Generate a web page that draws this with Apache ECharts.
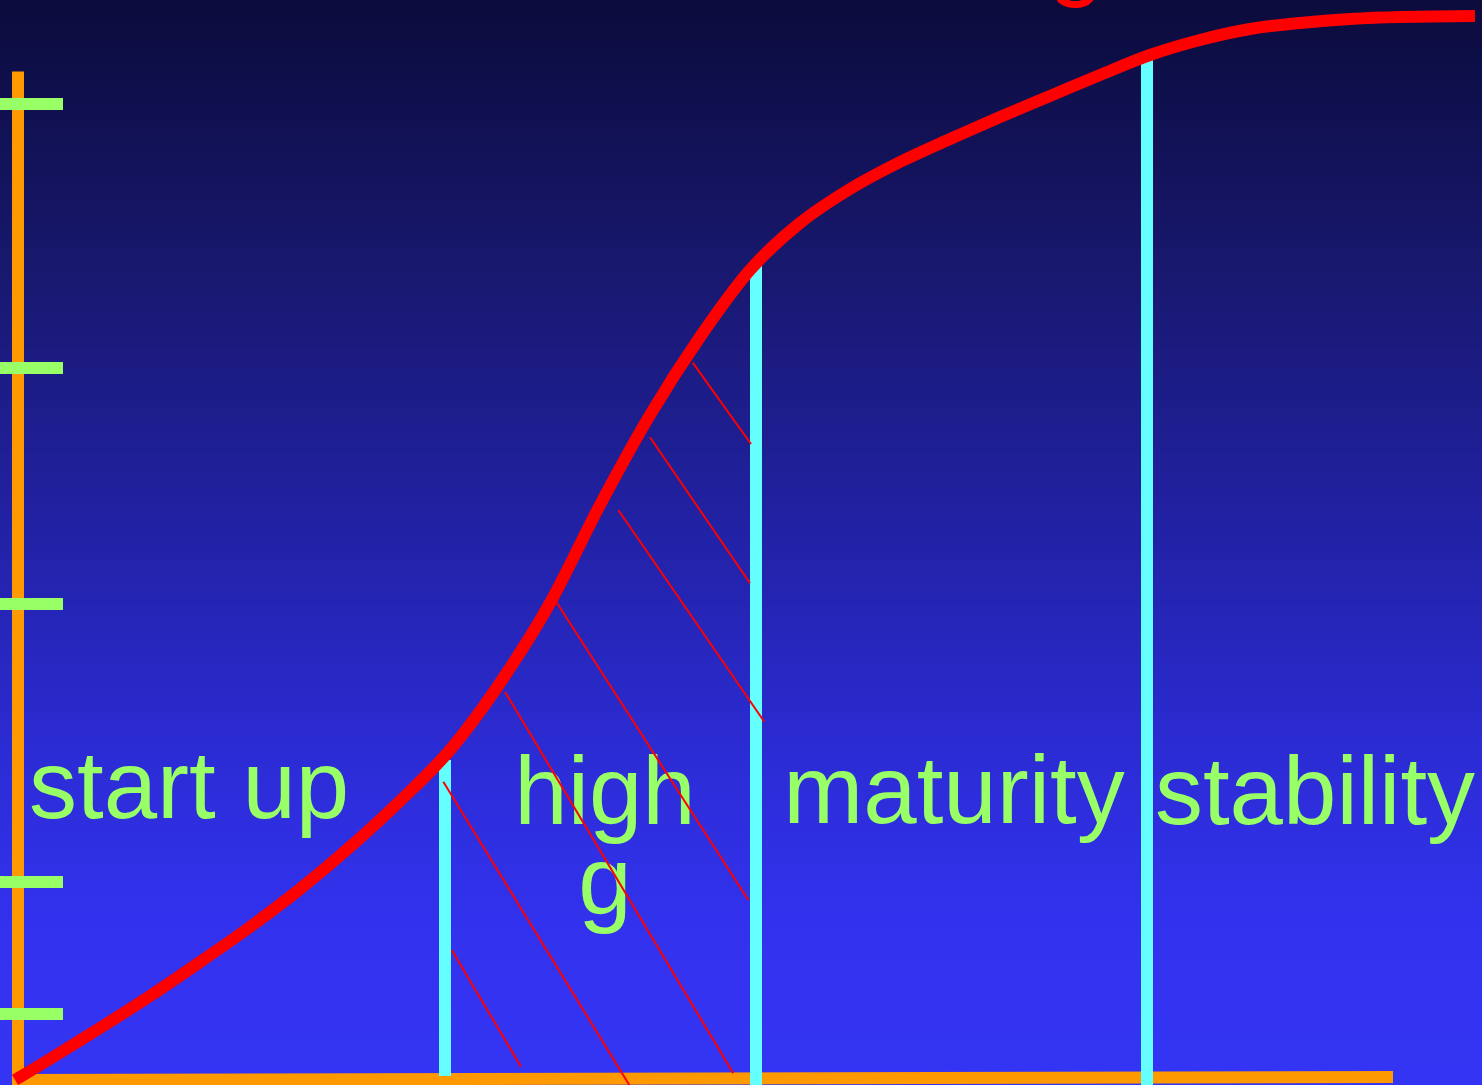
<!DOCTYPE html>
<html>
<head>
<meta charset="utf-8">
<title>Product life cycle</title>
<script src="https://cdn.jsdelivr.net/npm/echarts@6/dist/echarts.min.js"></script>
<style>
  html, body { margin: 0; padding: 0; background: #0b0b3c; }
  #chart { width: 1482px; height: 1085px; }
</style>
</head>
<body>
<div id="chart"></div>
<script>
// S-curve of the life cycle, sampled at even time steps
const curveTimes = [
  15, 50, 100, 150, 200, 250, 300, 350, 400, 450, 500, 550, 600, 650, 700, 750,
  800, 850, 900, 950, 1000, 1050, 1100, 1150, 1200, 1250, 1300, 1350, 1400, 1475
];
const curveLevels = [
  5, 26, 57, 89, 123, 158, 196, 238, 284, 335, 402, 482, 580, 670, 748, 815,
  862, 896, 923, 946, 968, 989, 1010, 1030, 1045, 1056, 1062, 1066, 1068, 1069
];

// Phase dividers: time position, top and bottom level
const dividerTimes = [445, 756, 1147];
const dividerTops = [325, 823, 1027];
const dividerBottoms = [9, 0, 0];

// Phase names
const phaseNames = ['start up', 'high\ng', 'maturity', 'stability'];

// Level marks along the vertical axis
const levelTicks = [981.3, 717, 481, 203.3, 71.7];

// Axis lines: [start, end]
const levelAxis = [[17.5, 0], [17.5, 1013.5]];
const timeAxis = [[12, 5], [1393, 8]];

// Hatching of the high growth phase
const hatchSegments = [
  [[692.7, 722.3], [751, 641]],
  [[650, 647.7], [750, 501.7]],
  [[618.3, 575], [764.3, 363.3]],
  [[555.7, 484], [748.3, 185]],
  [[505, 393.3], [733.3, 11.7]],
  [[443.3, 303.3], [629.3, 0]],
  [[451.7, 135], [521, 18.3]]
];

const chart = echarts.init(document.getElementById('chart'), null, { renderer: 'canvas' });

const ORANGE = '#ff9900';
const GREEN = '#99ff66';
const CYAN = '#66ffff';
const RED = '#ff0000';
const FONT = '"Liberation Sans", Arial, Helvetica, sans-serif';

function segLines(name, segs, color, width, z) {
  return {
    type: 'lines',
    name: name,
    coordinateSystem: 'cartesian2d',
    polyline: false,
    silent: true,
    z: z,
    lineStyle: { color: color, width: width, opacity: 1, curveness: 0, cap: 'butt' },
    data: segs.map(s => ({ coords: s }))
  };
}

// Catmull-Rom spline through pixel points, as SVG path data
function splinePath(pts) {
  const f = n => n.toFixed(2);
  let d = 'M' + f(pts[0][0]) + ' ' + f(pts[0][1]);
  for (let i = 0; i < pts.length - 1; i++) {
    const p0 = pts[Math.max(i - 1, 0)];
    const p1 = pts[i];
    const p2 = pts[i + 1];
    const p3 = pts[Math.min(i + 2, pts.length - 1)];
    const c1x = p1[0] + (p2[0] - p0[0]) / 6;
    const c1y = p1[1] + (p2[1] - p0[1]) / 6;
    const c2x = p2[0] - (p3[0] - p1[0]) / 6;
    const c2y = p2[1] - (p3[1] - p1[1]) / 6;
    d += ' C' + f(c1x) + ' ' + f(c1y) + ' ' + f(c2x) + ' ' + f(c2y) + ' ' + f(p2[0]) + ' ' + f(p2[1]);
  }
  return d;
}

const tickSegs = levelTicks.map(v => [[0, v], [63, v]]);
const dividerSegs = dividerTimes.map((t, i) => [[t, dividerBottoms[i]], [t, dividerTops[i]]]);
const curveData = curveTimes.map((t, i) => [t, curveLevels[i]]);

const option = {
  animation: false,
  backgroundColor: {
    type: 'linear', x: 0, y: 0, x2: 0, y2: 1,
    colorStops: [
      { offset: 0, color: '#0b0b3c' },
      { offset: 0.25, color: '#18186f' },
      { offset: 0.5, color: '#2222a8' },
      { offset: 0.7, color: '#2c2cd6' },
      { offset: 0.85, color: '#3232ee' },
      { offset: 1, color: '#3434f4' }
    ]
  },
  grid: { left: 0, right: 0, top: 0, bottom: 0 },
  xAxis: { type: 'value', min: 0, max: 1482, show: false },
  yAxis: { type: 'value', min: 0, max: 1085, show: false },
  graphic: [
    {
      type: 'text', x: 29, y: 792, z: 1,
      style: { text: phaseNames[0], font: '96px ' + FONT, fill: GREEN, textAlign: 'left', textVerticalAlign: 'middle' }
    },
    {
      type: 'text', x: 605, y: 843, z: 1,
      style: { text: phaseNames[1], font: '96px ' + FONT, lineHeight: 90, fill: GREEN, textAlign: 'center', textVerticalAlign: 'middle' }
    },
    {
      type: 'text', x: 954, y: 796.5, z: 1,
      style: { text: phaseNames[2], font: '96px ' + FONT, fill: GREEN, textAlign: 'center', textVerticalAlign: 'middle' }
    },
    {
      type: 'text', x: 1315, y: 797.5, z: 1,
      style: { text: phaseNames[3], font: '96px ' + FONT, fill: GREEN, textAlign: 'center', textVerticalAlign: 'middle' }
    },
    {
      type: 'text', x: 1076, y: -40.5, z: 1,
      style: { text: 'g', font: '100px ' + FONT, fill: RED, textAlign: 'center', textVerticalAlign: 'middle' }
    }
  ],
  series: [
    segLines('axes', [levelAxis, timeAxis], ORANGE, 12, 2),
    segLines('ticks', tickSegs, GREEN, 12, 3),
    segLines('phases', dividerSegs, CYAN, 12, 4),
    segLines('hatch', hatchSegments, RED, 2, 5),
    {
      // one spline through all samples, drawn with the first item
      type: 'custom',
      name: 'life cycle',
      data: curveData,
      encode: { x: 0, y: 1 },
      silent: true,
      clip: false,
      z: 6,
      renderItem: function (params, api) {
        if (params.dataIndex !== 0) return null;
        const pts = curveData.map(p => api.coord(p));
        return {
          type: 'path',
          shape: { pathData: splinePath(pts), layout: 'center' },
          style: { stroke: RED, lineWidth: 12, fill: null, lineCap: 'butt', lineJoin: 'round' }
        };
      }
    }
  ]
};

chart.setOption(option);
</script>
</body>
</html>
